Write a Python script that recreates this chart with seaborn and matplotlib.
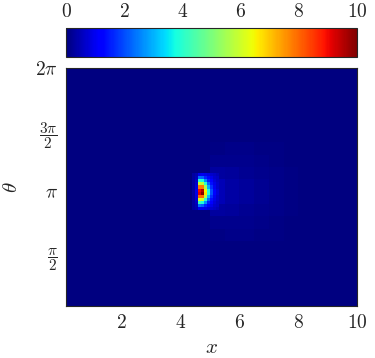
import numpy as np
import matplotlib
matplotlib.use("Agg")
import matplotlib.pyplot as plt
import seaborn as sns

sns.set_style("white")
plt.rcParams["mathtext.fontset"] = "cm"
plt.rcParams["font.family"] = ["DejaVu Serif"]

# grid description (cell sizes of the sampled field)
x_min, x_step, n_cols = 0.1, 0.1, 99
th_step = np.pi / 40
n_rows = 77  # theta from 3*pi/40 up to 2*pi, top row = highest theta

background_value = 0.0

# hot spot values around (x≈4.7, theta≈pi); rows top (high theta) -> bottom,
# columns x = 4.4..5.3 in steps of 0.1
spot_x0 = 4.4
spot_top_theta = np.pi + 6 * np.pi / 40
spot_values = [
    [0.3, 0.4, 0.9, 1.0, 0.9, 0.8, 0.7, 0.6, 0.5],
    [0.3, 0.5, 2.3, 2.2, 1.6, 1.2, 0.9, 0.7, 0.6],
    [0.3, 0.6, 4.0, 3.8, 2.6, 1.6, 1.1, 0.8, 0.6],
    [0.3, 0.7, 6.0, 5.8, 4.0, 2.3, 1.4, 0.9, 0.7],
    [0.3, 0.8, 7.8, 7.8, 5.5, 3.0, 1.7, 1.0, 0.7],
    [0.3, 0.9, 9.0, 9.6, 6.5, 3.8, 2.0, 1.1, 0.8],
    [0.3, 0.9, 9.2, 10.0, 6.7, 3.9, 2.0, 1.1, 0.8],
    [0.3, 0.8, 8.0, 8.0, 5.7, 3.1, 1.7, 1.0, 0.7],
    [0.3, 0.7, 6.2, 6.0, 4.1, 2.3, 1.4, 0.9, 0.7],
    [0.3, 0.6, 4.2, 3.9, 2.7, 1.6, 1.1, 0.8, 0.6],
    [0.3, 0.5, 2.4, 2.2, 1.6, 1.2, 0.9, 0.7, 0.6],
    [0.3, 0.4, 1.0, 1.0, 0.9, 0.8, 0.7, 0.6, 0.5],
]

# faint halo to the right of the spot, coarse blocks (5 cols x 4 rows each)
halo_x0 = 5.0
halo_top_theta = np.pi + 16 * np.pi / 40
halo_block = (4, 5)
halo_values = [
    [0.05, 0.08, 0.08, 0.06, 0.04, 0.02],
    [0.12, 0.14, 0.12, 0.10, 0.06, 0.03],
    [0.30, 0.24, 0.18, 0.13, 0.08, 0.04],
    [0.50, 0.34, 0.24, 0.16, 0.10, 0.05],
    [0.50, 0.34, 0.24, 0.16, 0.10, 0.05],
    [0.30, 0.24, 0.18, 0.13, 0.08, 0.04],
    [0.12, 0.14, 0.12, 0.10, 0.06, 0.03],
    [0.05, 0.08, 0.08, 0.06, 0.04, 0.02],
]

cbar_ticks = [0, 2, 4, 6, 8, 10]
x_ticks = [2, 4, 6, 8, 10]
x_ticklabels = [r"$2$", r"$4$", r"$6$", r"$8$", r"$10$"]
th_ticks = [np.pi / 2, np.pi, 3 * np.pi / 2, 2 * np.pi]
th_ticklabels = [r"$\dfrac{\pi}{2}$", r"$\pi$", r"$\dfrac{3\pi}{2}$", r"$2\pi$"]
th_ticksizes = [11, 14, 11, 14]


def col_of(x):
    return int(round((x - x_min) / x_step))


def row_of(theta):
    return int(round((2 * np.pi - theta) / th_step))


field = np.full((n_rows, n_cols), background_value)
halo = np.kron(np.array(halo_values), np.ones(halo_block))
r0, c0 = row_of(halo_top_theta), col_of(halo_x0)
field[r0:r0 + halo.shape[0], c0:c0 + halo.shape[1]] = halo
spot = np.array(spot_values)
r0, c0 = row_of(spot_top_theta), col_of(spot_x0)
field[r0:r0 + spot.shape[0], c0:c0 + spot.shape[1]] = spot

W, H = 375, 358
fig = plt.figure(figsize=(W / 100, H / 100), dpi=100)
ax = fig.add_axes([66 / W, 1 - 306 / H, 291 / W, (306 - 68) / H])
cax = fig.add_axes([66 / W, 1 - 57 / H, 291 / W, 29 / H])

sns.heatmap(field, ax=ax, cbar_ax=cax, cmap="jet", vmin=0, vmax=10,
            xticklabels=False, yticklabels=False,
            cbar_kws={"orientation": "horizontal", "ticks": cbar_ticks})

for s in ax.spines.values():
    s.set_visible(True)
    s.set_color("0.15")
    s.set_linewidth(0.8)

ax.set_xticks([(v - x_min) / x_step for v in x_ticks])
ax.set_xticklabels(x_ticklabels, fontsize=14)
ax.set_yticks([(2 * np.pi - t) / th_step for t in th_ticks])
ax.set_yticklabels(th_ticklabels)
for lab, fs in zip(ax.get_yticklabels(), th_ticksizes):
    lab.set_fontsize(fs)
ax.tick_params(axis="both", direction="in", length=4, width=0.6,
               color="0.55", top=True, right=True, pad=6)
ax.set_xlabel(r"$x$", fontsize=15, labelpad=4)
ax.set_ylabel(r"$\theta$", fontsize=15, labelpad=10)

cb = ax.collections[0].colorbar
cb.outline.set_visible(True)
cb.outline.set_linewidth(0.8)
cb.outline.set_edgecolor("0.15")
cax.tick_params(axis="x", direction="in", length=6, width=0.6, color="0.55",
                top=True, bottom=True, labeltop=True, labelbottom=False,
                labelsize=14, pad=5)
cax.set_xticklabels([rf"${t}$" for t in cbar_ticks])

fig.savefig("out.png", dpi=100)
